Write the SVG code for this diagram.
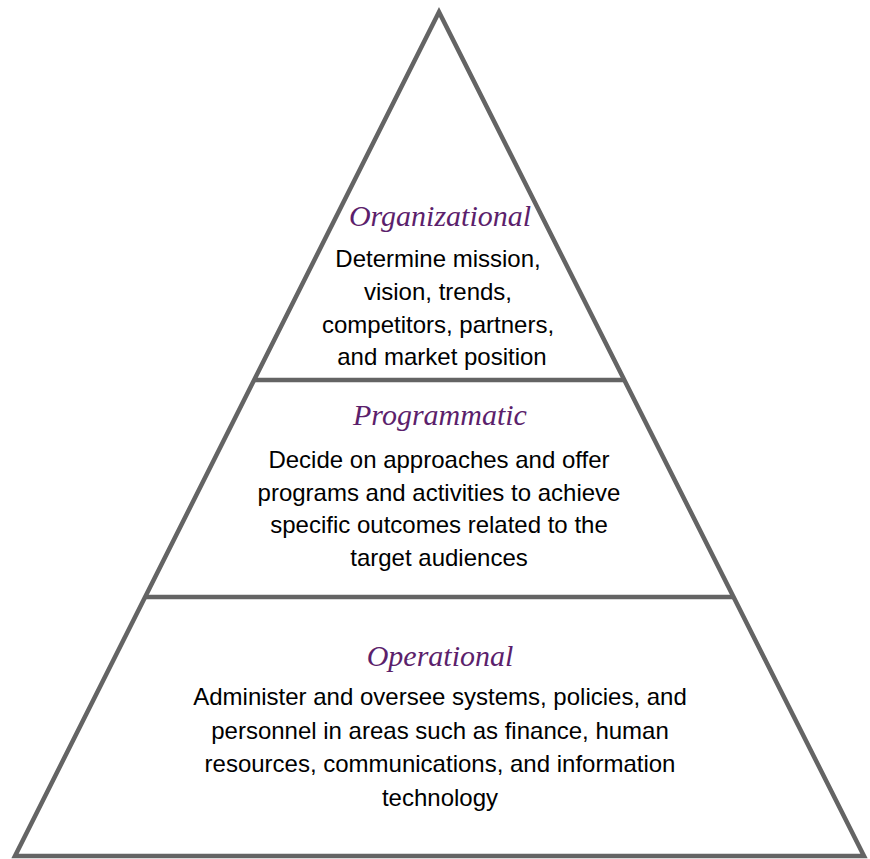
<svg xmlns="http://www.w3.org/2000/svg" width="870" height="859" viewBox="0 0 870 859">
  <style>
    .edge { fill: none; stroke: #646464; stroke-width: 4.5; stroke-linejoin: miter; }
    .title { font-family: "Liberation Serif", "Times New Roman", serif; font-style: italic; font-size: 30px; fill: #5c1f6c; text-anchor: middle; }
    .body { font-family: "Liberation Sans", Arial, sans-serif; font-size: 24px; fill: #000; text-anchor: middle; }
  </style>
  <rect width="870" height="859" fill="#fff"/>
  <g id="connectors">
    <polygon class="edge" points="439,12 15,856 864,856"/>
    <line class="edge" x1="255" y1="380" x2="623" y2="380"/>
    <line class="edge" x1="146" y1="597" x2="733" y2="597"/>
  </g>
  <g id="organizational">
    <text class="title" x="440" y="226">Organizational</text>
    <text class="body" x="438" y="267">Determine mission,</text>
    <text class="body" x="438" y="300">vision, trends,</text>
    <text class="body" x="438" y="333">competitors, partners,</text>
    <text class="body" x="442" y="365">and market position</text>
  </g>
  <g id="programmatic">
    <text class="title" x="440" y="425">Programmatic</text>
    <text class="body" x="439" y="468">Decide on approaches and offer</text>
    <text class="body" x="439" y="501">programs and activities to achieve</text>
    <text class="body" x="439" y="533">specific outcomes related to the</text>
    <text class="body" x="439" y="566">target audiences</text>
  </g>
  <g id="operational">
    <text class="title" x="440" y="666">Operational</text>
    <text class="body" x="440" y="705">Administer and oversee systems, policies, and</text>
    <text class="body" x="440" y="739">personnel in areas such as finance, human</text>
    <text class="body" x="440" y="772">resources, communications, and information</text>
    <text class="body" x="440" y="806">technology</text>
  </g>
</svg>
